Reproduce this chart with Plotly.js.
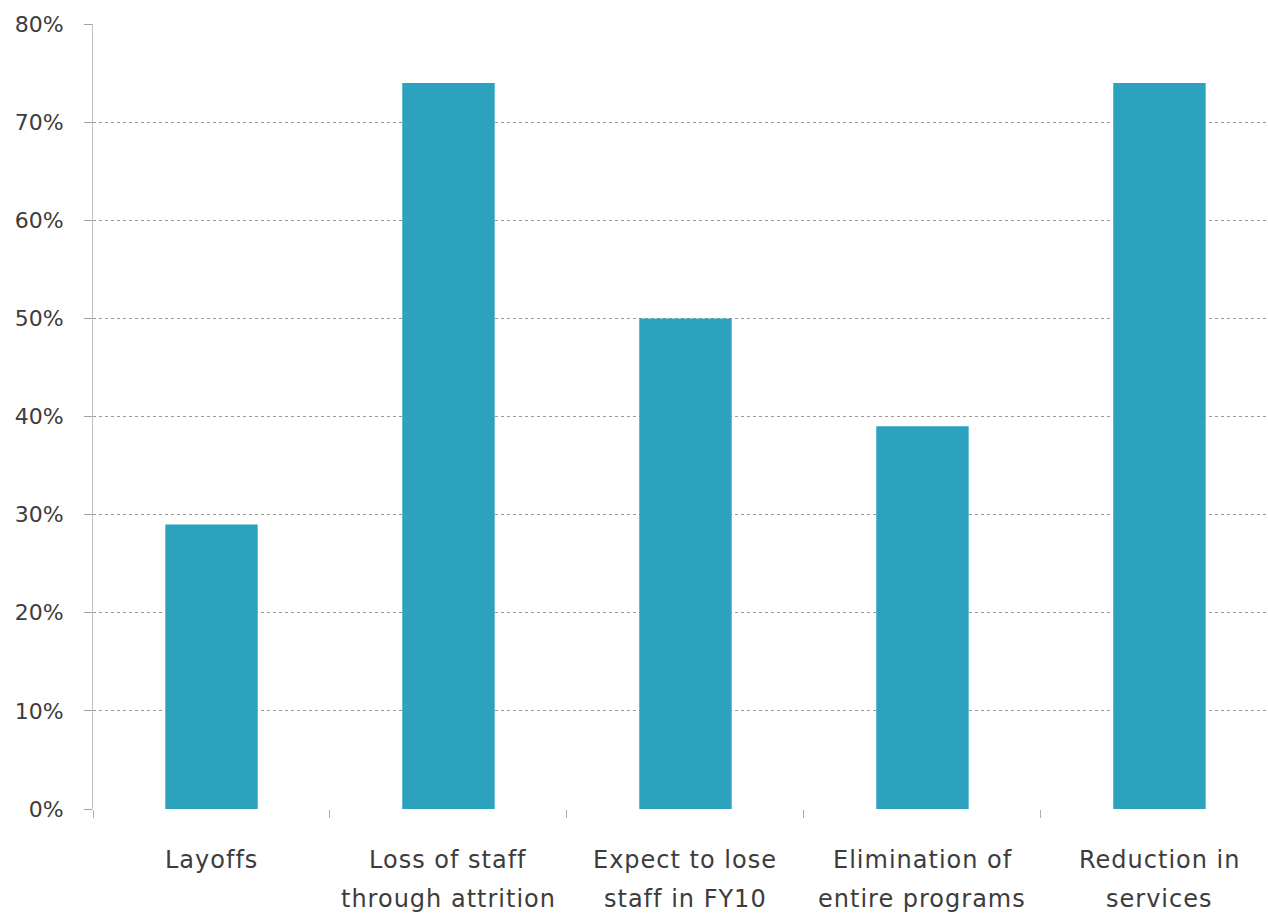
<!DOCTYPE html>
<html>
<head>
<meta charset="utf-8">
<script src="https://cdn.plot.ly/plotly-3.0.1.min.js"></script>
<style>
html,body{margin:0;padding:0;background:#fff;}
#chart{width:1268px;height:916px;}
.annotation-text{letter-spacing:1px;}
</style>
</head>
<body>
<div id="chart"></div>
<script>
const categories = ["Layoffs", "Loss of staff<br>through attrition", "Expect to lose<br>staff in FY10", "Elimination of<br>entire programs", "Reduction in<br>services"];
const values = [0.29, 0.74, 0.50, 0.39, 0.74];
const yTickVals = [0, 0.1, 0.2, 0.3, 0.4, 0.5, 0.6, 0.7, 0.8];
const yTickText = ["0%", "10%", "20%", "30%", "40%", "50%", "60%", "70%", "80%"];

const trace = {
  type: 'bar',
  x: categories,
  y: values,
  marker: {color: '#2ca2bf'},
  hoverinfo: 'skip'
};

// category labels drawn line by line so the line spacing matches
const lineShifts = [-51, -90];
const annotations = [];
categories.forEach(function (cat) {
  cat.split('<br>').forEach(function (line, i) {
    annotations.push({
      xref: 'x', yref: 'paper',
      x: cat, y: 0,
      text: line,
      showarrow: false,
      xanchor: 'center', yanchor: 'middle',
      yshift: lineShifts[i],
      font: {family: 'DejaVu Sans, sans-serif', size: 24, color: '#3c3c3c'}
    });
  });
});

const layout = {
  width: 1268,
  height: 916,
  margin: {l: 93, r: 0, t: 24, b: 107},
  paper_bgcolor: '#ffffff',
  plot_bgcolor: '#ffffff',
  showlegend: false,
  bargap: 0.61,
  font: {family: 'DejaVu Sans, sans-serif', color: '#3c3c3c', size: 22},
  annotations: annotations,
  xaxis: {
    type: 'category',
    range: [-0.5, 4.458],
    tickson: 'boundaries',
    ticks: 'outside',
    ticklen: 8,
    tickcolor: '#b0b0b0',
    showline: false,
    showgrid: false,
    zeroline: false,
    showticklabels: false
  },
  yaxis: {
    range: [0, 0.8],
    tickvals: yTickVals,
    ticktext: yTickText,
    ticks: 'outside',
    ticklen: 8,
    tickcolor: '#a0a0a0',
    showline: true,
    linecolor: '#c0c0c0',
    linewidth: 1,
    showgrid: true,
    gridcolor: '#9a9a9a',
    griddash: 'dot',
    gridwidth: 1,
    zeroline: false,
    ticklabelstandoff: 16,
    tickfont: {size: 22, color: '#3c3c3c'}
  }
};

Plotly.newPlot('chart', [trace], layout, {displayModeBar: false, staticPlot: true});
</script>
</body>
</html>
